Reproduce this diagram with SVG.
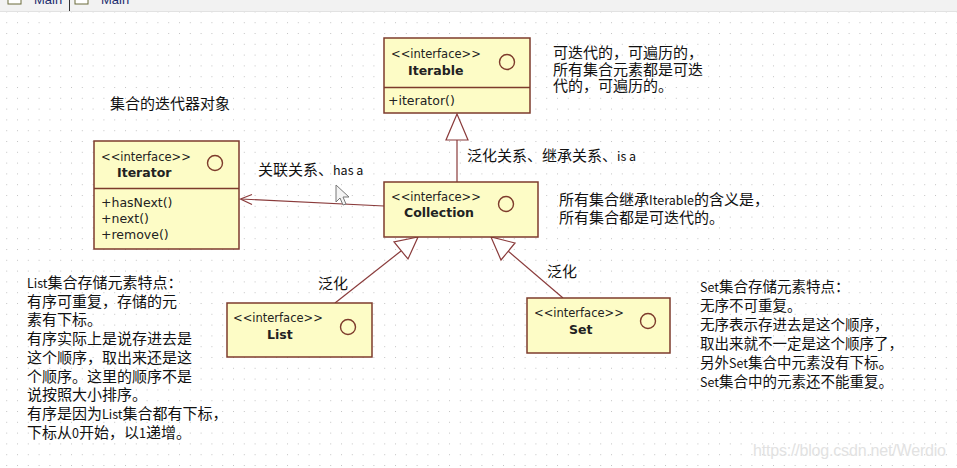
<svg xmlns="http://www.w3.org/2000/svg" width="957" height="468" viewBox="0 0 957 468">
<defs>
<pattern id="dots" x="6.2" y="22.2" width="10.8" height="10.8" patternUnits="userSpaceOnUse">
<rect x="0" y="0" width="1" height="1" fill="#c4c4c4"/>
</pattern>
</defs>
<style>
.box{fill:#fdfcc6;stroke:#7d3b2c;stroke-width:1.5}
.ico{fill:none;stroke:#7d3b2c;stroke-width:1.4}
.st{font-family:"DejaVu Sans","Liberation Sans",sans-serif;font-size:11.5px;fill:#222}
.nm{font-family:"DejaVu Sans","Liberation Sans",sans-serif;font-size:12.5px;font-weight:bold;fill:#222}
.mt{font-family:"DejaVu Sans","Liberation Sans",sans-serif;font-size:12.5px;fill:#222}
.cn{font-family:"Noto Sans CJK SC","Noto Sans",sans-serif;font-size:15px;fill:#111}
.cs{font-family:"Noto Sans CJK SC","Noto Sans",sans-serif;font-size:14.5px;fill:#111}
.lt{font-size:12.5px}
.ln{stroke:#8a3b3b;stroke-width:1.2;fill:none}
.tri{fill:#fff;stroke:#8a3b3b;stroke-width:1.2}
</style>
<rect x="0" y="0" width="957" height="468" fill="#fff"/>
<rect x="0" y="12" width="957" height="456" fill="url(#dots)"/>
<g id="tabbar">
<rect x="0" y="0" width="957" height="11" fill="#f2f2f2"/>
<line x1="0" y1="11.5" x2="957" y2="11.5" stroke="#e2e2e2"/>
<rect x="8" y="-6" width="13" height="10" fill="#fff" stroke="#6b6b3a"/>
<text x="34" y="4" font-family="Liberation Sans,sans-serif" font-size="13" fill="#1c2d6e">Main</text>
<line x1="69.5" y1="0" x2="69.5" y2="11" stroke="#333"/>
<rect x="75" y="-6" width="13" height="10" fill="#fff" stroke="#6b6b3a"/>
<text x="101" y="4" font-family="Liberation Sans,sans-serif" font-size="13" fill="#1c2d6e">Main</text>
</g>
<g id="connectors">
<line class="ln" x1="457" y1="140" x2="457" y2="182"/>
<polygon class="tri" points="457,114 446,140 468,140"/>
<line class="ln" x1="384" y1="206" x2="241" y2="199"/>
<path class="ln" d="M252,194.5 L240.5,199 L252,204.5"/>
<line class="ln" x1="335" y1="303" x2="401" y2="251"/>
<polygon class="tri" points="418,237 394,242 408,259"/>
<line class="ln" x1="563" y1="298" x2="508" y2="251"/>
<polygon class="tri" points="491,237 501,260 515,243"/>
</g>
<g id="Iterable">
<rect class="box" x="384" y="38" width="146" height="75"/>
<line x1="384" y1="87.5" x2="530" y2="87.5" stroke="#7d3b2c" stroke-width="1.5"/>
<text class="st" x="391" y="58">&lt;&lt;interface&gt;&gt;</text>
<text class="nm" x="408" y="75">Iterable</text>
<circle class="ico" cx="507" cy="62" r="7.5"/>
<text class="mt" x="388" y="105">+iterator()</text>
</g>
<g id="Iterator">
<rect class="box" x="94" y="141" width="145" height="108"/>
<line x1="94" y1="188.5" x2="239" y2="188.5" stroke="#7d3b2c" stroke-width="1.5"/>
<text class="st" x="101" y="161">&lt;&lt;interface&gt;&gt;</text>
<text class="nm" x="117" y="177">Iterator</text>
<circle class="ico" cx="215" cy="163" r="7.5"/>
<text class="mt" x="101" y="207">+hasNext()</text>
<text class="mt" x="101" y="223">+next()</text>
<text class="mt" x="101" y="239">+remove()</text>
</g>
<g id="Collection">
<rect class="box" x="384" y="182" width="154" height="55"/>
<text class="st" x="391" y="201">&lt;&lt;interface&gt;&gt;</text>
<text class="nm" x="404" y="217">Collection</text>
<circle class="ico" cx="506" cy="204" r="7.5"/>
</g>
<g id="List">
<rect class="box" x="227" y="303" width="145" height="54"/>
<text class="st" x="233" y="322">&lt;&lt;interface&gt;&gt;</text>
<text class="nm" x="267" y="339">List</text>
<circle class="ico" cx="348" cy="327" r="7.5"/>
</g>
<g id="Set">
<rect class="box" x="527" y="298" width="143" height="55"/>
<text class="st" x="534" y="317">&lt;&lt;interface&gt;&gt;</text>
<text class="nm" x="569" y="334">Set</text>
<circle class="ico" cx="648" cy="321" r="7.5"/>
</g>
<g id="labels">
<text class="cn" x="110" y="109">集合的迭代器对象</text>
<text class="cn" x="553" y="58">可迭代的，可遍历的，</text>
<text class="cn" x="553" y="75">所有集合元素都是可迭</text>
<text class="cn" x="553" y="91">代的，可遍历的。</text>
<text class="cn" x="258" y="175">关联关系、<tspan class="lt">has a</tspan></text>
<text class="cn" x="467" y="161">泛化关系、继承关系、<tspan class="lt">is a</tspan></text>
<text class="cn" x="559" y="205">所有集合继承<tspan class="lt">Iterable</tspan>的含义是，</text>
<text class="cn" x="559" y="223">所有集合都是可迭代的。</text>
<text class="cn" x="318" y="289">泛化</text>
<text class="cn" x="547" y="277">泛化</text>
<g class="cn">
<text x="27" y="288"><tspan class="lt">List</tspan>集合存储元素特点：</text>
<text x="27" y="307">有序可重复，存储的元</text>
<text x="27" y="325">素有下标。</text>
<text x="27" y="344">有序实际上是说存进去是</text>
<text x="27" y="363">这个顺序，取出来还是这</text>
<text x="27" y="382">个顺序。这里的顺序不是</text>
<text x="27" y="400">说按照大小排序。</text>
<text x="27" y="419">有序是因为<tspan class="lt">List</tspan>集合都有下标，</text>
<text x="27" y="438">下标从<tspan class="lt">0</tspan>开始，以<tspan class="lt">1</tspan>递增。</text>
</g>
<g class="cs">
<text x="700" y="292"><tspan class="lt">Set</tspan>集合存储元素特点：</text>
<text x="700" y="311">无序不可重复。</text>
<text x="700" y="330">无序表示存进去是这个顺序，</text>
<text x="700" y="349">取出来就不一定是这个顺序了，</text>
<text x="700" y="368">另外<tspan class="lt">Set</tspan>集合中元素没有下标。</text>
<text x="700" y="387"><tspan class="lt">Set</tspan>集合中的元素还不能重复。</text>
</g>
</g>
<g id="cursor">
<path d="M336,185 L336,202 L340,198 L343,205 L346,204 L343,197 L349,197 Z" fill="#f4f4f4" stroke="#777" stroke-width="1"/>
</g>
<text x="753" y="456" font-family="Liberation Sans,sans-serif" font-size="16" fill="#e2e2e2" textLength="193">https://blog.csdn.net/Werdio</text>
</svg>
